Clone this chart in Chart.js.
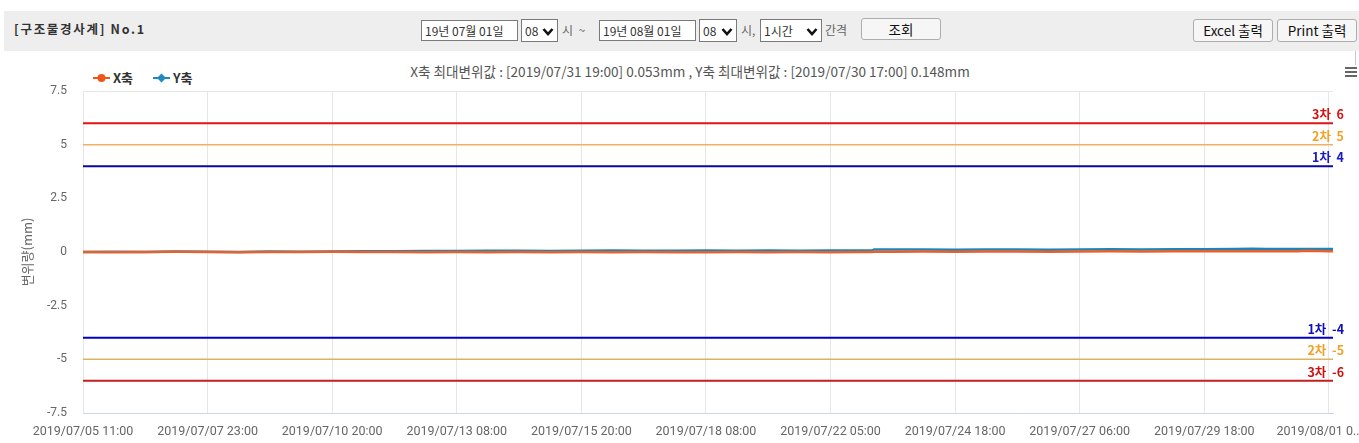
<!DOCTYPE html>
<html><head><meta charset="utf-8">
<script src="https://cdn.jsdelivr.net/npm/chart.js@4.4.0/dist/chart.umd.min.js"></script>
<style>
html,body{margin:0;padding:0;background:#fff;width:1359px;height:443px;overflow:hidden;position:relative;font-family:'Noto Sans CJK KR',sans-serif;}
.abs{position:absolute;white-space:nowrap;}
#bar{left:4px;top:11px;width:1355px;height:40px;background:#eeeeee;}
#ttl{left:14px;top:20px;font-size:12.5px;font-weight:bold;color:#333;letter-spacing:1.7px;line-height:18px;}
.box{position:absolute;border:1px solid #7a7a7a;background:#fff;box-sizing:border-box;font-size:12px;color:#333;line-height:19px;padding-left:3px;white-space:nowrap;}
.sel svg{position:absolute;right:3px;top:7px;}
.lbl{position:absolute;font-size:12px;color:#666;line-height:16px;white-space:nowrap;}
.btn{position:absolute;border:1px solid #adadad;border-radius:3px;background:#f6f6f6;box-sizing:border-box;font-size:13.5px;color:#111;text-align:center;white-space:nowrap;}
#sub{left:0;width:1380px;top:62px;text-align:center;font-size:13.6px;color:#555;line-height:18px;}
.leg{position:absolute;top:70px;font-size:13px;font-weight:bold;color:#333;line-height:16px;}
.hb{position:absolute;left:1345px;width:12px;height:2px;background:#666;}
#wrap{position:absolute;left:0;top:55px;width:1359px;height:388px;}
#rline{left:1355px;top:51px;width:1px;height:14px;background:#c8c8c8;}
</style></head>
<body>
<div id="bar" class="abs"></div>
<div id="ttl" class="abs">[구조물경사계] No.1</div>
<div class="box" style="left:421px;top:20px;width:97px;height:21px;">19년 07월 01일</div>
<div class="box sel" style="left:521px;top:19px;width:37px;height:23px;line-height:21px;">08<svg width="12" height="9" viewBox="0 0 12 9"><path d="M1.5 2 L6 7 L10.5 2" stroke="#111" stroke-width="2.6" fill="none"/></svg></div>
<div class="lbl" style="left:562px;top:22px;">시 &nbsp;~</div>
<div class="box" style="left:599px;top:20px;width:97px;height:21px;">19년 08월 01일</div>
<div class="box sel" style="left:699px;top:19px;width:38px;height:23px;line-height:21px;">08<svg width="12" height="9" viewBox="0 0 12 9"><path d="M1.5 2 L6 7 L10.5 2" stroke="#111" stroke-width="2.6" fill="none"/></svg></div>
<div class="lbl" style="left:741px;top:22px;">시,</div>
<div class="box sel" style="left:760px;top:19px;width:62px;height:23px;line-height:21px;">1시간<svg width="12" height="9" viewBox="0 0 12 9"><path d="M1.5 2 L6 7 L10.5 2" stroke="#111" stroke-width="2.6" fill="none"/></svg></div>
<div class="lbl" style="left:825px;top:22px;">간격</div>
<div class="btn" style="left:861px;top:18px;width:80px;height:22px;line-height:20px;">조회</div>
<div class="btn" style="left:1193px;top:19px;width:80px;height:23px;line-height:21px;">Excel 출력</div>
<div class="btn" style="left:1277px;top:19px;width:80px;height:23px;line-height:21px;">Print 출력</div>
<div id="rline" class="abs"></div>

<div id="sub" class="abs">X축 최대변위값 : [2019/07/31 19:00] 0.053mm , Y축 최대변위값 : [2019/07/30 17:00] 0.148mm</div>

<div class="leg" style="left:93px;"><svg width="17" height="12" style="vertical-align:-1px"><line x1="0" y1="6" x2="17" y2="6" stroke="#ED561B" stroke-width="2"/><circle cx="8.5" cy="6" r="4" fill="#ED561B"/></svg> X축</div>
<div class="leg" style="left:153px;"><svg width="17" height="12" style="vertical-align:-1px"><line x1="0" y1="6" x2="17" y2="6" stroke="#1F8AC0" stroke-width="2"/><path d="M8.5 1.5 L13 6 L8.5 10.5 L4 6 Z" fill="#1F8AC0"/></svg> Y축</div>

<div class="hb" style="top:67px;"></div>
<div class="hb" style="top:71px;"></div>
<div class="hb" style="top:75px;"></div>

<div id="wrap"><canvas id="c" width="1359" height="388"></canvas></div>

<script>
// x positions are sample (hour-record) indices; ticks every 60 records
const tickIdx = [0, 60, 120, 180, 240, 300, 360, 420, 480, 540, 600];
const tickLabels = ["2019/07/05 11:00","2019/07/07 23:00","2019/07/10 20:00","2019/07/13 08:00","2019/07/15 20:00","2019/07/18 08:00","2019/07/22 05:00","2019/07/24 18:00","2019/07/27 06:00","2019/07/29 18:00","2019/08/01 06:00"];
const lastIdx = 602;

const sampleIdx = [0,15,30,45,60,75,90,105,120,135,150,165,180,195,210,225,240,255,270,285,300,315,330,345,360,375,380,381,390,405,420,435,450,465,480,495,510,525,540,555,563,570,585,589,600,602];
const xAxisVals = [0.00,-0.01,0.00,0.01,0.00,-0.01,0.00,0.00,0.01,0.00,0.00,-0.01,0.00,-0.01,0.00,-0.01,0.00,-0.01,0.00,-0.01,-0.01,0.00,-0.01,0.00,-0.01,0.00,0.00,0.01,0.01,0.02,0.01,0.02,0.02,0.01,0.02,0.03,0.02,0.03,0.03,0.04,0.03,0.04,0.04,0.053,0.04,0.04];
const yAxisVals = [0.00,0.01,0.00,0.02,0.01,0.00,0.02,0.01,0.02,0.03,0.04,0.05,0.05,0.06,0.06,0.05,0.06,0.07,0.06,0.06,0.07,0.06,0.07,0.06,0.07,0.07,0.07,0.12,0.12,0.12,0.11,0.12,0.12,0.11,0.12,0.13,0.12,0.13,0.13,0.14,0.148,0.14,0.14,0.14,0.14,0.14];

const limitVals   = [6, 5, 4, -4, -5, -6];
const limitNames  = ["3차 6", "2차 5", "1차 4", "1차 -4", "2차 -5", "3차 -6"];
const limitLine   = ["#E01414", "#F4B062", "#0A0A98", "#0000C8", "#DDB45E", "#C41E1E"];
const limitText   = ["#D81010", "#F2A124", "#1818C8", "#1010B8", "#F2A124", "#D01010"];
const limitWidth  = [2, 1.5, 2, 2, 1.5, 2];

const yTicks = [-7.5, -5, -2.5, 0, 2.5, 5, 7.5];

const toPts = vals => sampleIdx.map((ix, i) => ({x: ix, y: vals[i]}));

const datasets = [];
limitVals.forEach((v, i) => {
  datasets.push({label: limitNames[i], data: [{x: 0, y: v}, {x: lastIdx, y: v}], borderColor: limitLine[i], borderWidth: limitWidth[i], pointRadius: 0});
});
datasets.push({label: "X축", data: toPts(xAxisVals), borderColor: "#E8602C", borderWidth: 2.5, pointRadius: 0, tension: 0});
datasets.push({label: "Y축", data: toPts(yAxisVals), borderColor: "#1F85B8", borderWidth: 2.5, pointRadius: 0, tension: 0});

const limitLabels = {
  id: 'limitLabels',
  afterDatasetsDraw(chart) {
    const {ctx, chartArea} = chart;
    const ys = chart.scales.y;
    ctx.save();
    ctx.font = "bold 12.5px 'Noto Sans CJK KR', sans-serif";
    ctx.textAlign = 'right';
    ctx.textBaseline = 'alphabetic';
    limitVals.forEach((v, i) => {
      ctx.fillStyle = limitText[i];
      ctx.fillText(limitNames[i].replace(' ', '\u00a0\u00a0'), chartArea.right + 11, ys.getPixelForValue(v) - 4);
    });
    ctx.restore();
  }
};

new Chart(document.getElementById('c'), {
  type: 'line',
  data: {datasets},
  plugins: [limitLabels],
  options: {
    responsive: false, animation: false, devicePixelRatio: 1,
    layout: {padding: {top: 36, right: 26, left: 0, bottom: 0}},
    plugins: {legend: {display: false}, title: {display: false}, tooltip: {enabled: false}},
    scales: {
      x: {
        type: 'linear', min: 0, max: lastIdx,
        afterBuildTicks: s => { s.ticks = tickIdx.map(v => ({value: v})); },
        afterFit: s => { s.height = 30; s.paddingLeft = 0; s.paddingRight = 0; },
        grid: {color: '#e6e6e6', drawTicks: false, lineWidth: 1},
        border: {display: true, color: '#ccd6eb'},
        ticks: {
          autoSkip: false, maxRotation: 0, padding: 11, color: '#666',
          font: {family: 'Roboto, sans-serif', size: 12.5},
          callback: (v) => {
            const k = tickIdx.indexOf(v);
            if (k < 0) return '';
            const t = tickLabels[k];
            return k === tickIdx.length - 1 ? t.slice(0, 12) + '..' + '\u00a0'.repeat(7) : t;
          }
        }
      },
      y: {
        min: -7.5, max: 7.5,
        afterBuildTicks: s => { s.ticks = yTicks.map(v => ({value: v})); },
        afterFit: s => { s.width = 83; },
        grid: {drawTicks: false, color: c => (c.tick && c.tick.value === 7.5) ? '#e6e6e6' : 'rgba(0,0,0,0)'},
        border: {display: false},
        ticks: {padding: 16, color: '#666', font: {family: 'Roboto, sans-serif', size: 12}, callback: v => String(v)},
        title: {display: true, text: '변위량(mm)', color: '#666', font: {family: "'Noto Sans CJK KR', sans-serif", size: 13}, padding: {top: 19, bottom: 0}}
      }
    }
  }
});
</script>
</body></html>
